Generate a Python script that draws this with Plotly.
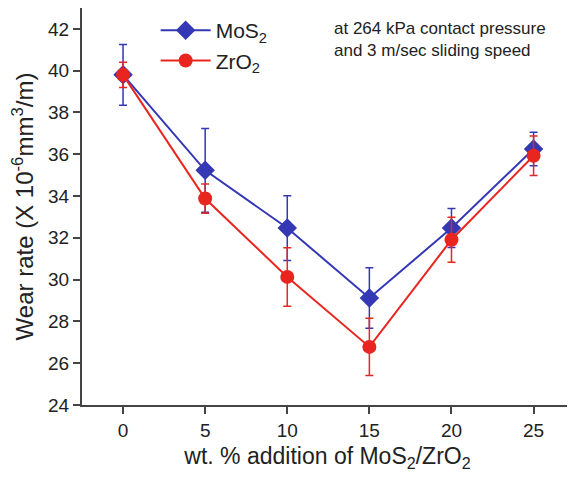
import plotly.graph_objects as go

wt_pct = [0, 5, 10, 15, 20, 25]
mos2_rate = [39.8, 35.23, 32.47, 29.12, 32.47, 36.25]
mos2_err = [1.45, 2.0, 1.55, 1.45, 0.93, 0.8]
zro2_rate = [39.8, 33.88, 30.13, 26.78, 31.91, 35.93]
zro2_err = [0.6, 0.7, 1.4, 1.37, 1.08, 0.95]
x_ticks = [0, 5, 10, 15, 20, 25]
y_ticks = [24, 26, 28, 30, 32, 34, 36, 38, 40, 42]

blue = "#3538b5"
red = "#e8261f"
FONT = "Liberation Sans, Arial, sans-serif"

fig = go.Figure()
fig.add_trace(go.Scatter(
    x=wt_pct, y=mos2_rate, mode="lines+markers", name="MoS<sub>2</sub>",
    line=dict(color=blue, width=2),
    marker=dict(symbol="diamond", size=15, color=blue),
    error_y=dict(type="data", array=mos2_err, color=blue, thickness=1.5, width=4),
))
fig.add_trace(go.Scatter(
    x=wt_pct, y=zro2_rate, mode="lines+markers", name="ZrO<sub>2</sub>",
    line=dict(color=red, width=2),
    marker=dict(symbol="circle", size=14, color=red),
    error_y=dict(type="data", array=zro2_err, color=red, thickness=1.5, width=4),
))

fig.add_annotation(
    x=0.509, y=0.978, xref="paper", yref="paper", xanchor="left", yanchor="top",
    text="at 264 kPa contact pressure<br>and 3 m/sec sliding speed",
    showarrow=False, align="left",
    font=dict(size=17, color="#222222", family=FONT),
)

axis_common = dict(
    showline=True, linecolor="#444444", linewidth=2, mirror=True,
    ticks="outside", ticklen=7, tickwidth=1.5, tickcolor="#444444",
    showgrid=False, zeroline=False, automargin=False,
    tickfont=dict(size=19, color="#222222"),
)

# the page body has an 8px margin, so the figure is sized to the visible area
fig.update_layout(
    width=567, height=471,
    margin=dict(l=74, r=2, t=0, b=74),
    paper_bgcolor="white", plot_bgcolor="white",
    font=dict(family=FONT, color="#222222"),
    showlegend=True,
    legend=dict(x=0.15, y=0.995, xanchor="left", yanchor="top",
                font=dict(size=21), bgcolor="rgba(0,0,0,0)",
                itemwidth=50, tracegroupgap=4),
    xaxis=dict(range=[-2.5, 27.4], tickvals=x_ticks,
               title=dict(text="wt. % addition of MoS<sub>2</sub>/ZrO<sub>2</sub>",
                          font=dict(size=23), standoff=8),
               **axis_common),
    yaxis=dict(range=[24, 43.0], tickvals=y_ticks,
               title=dict(text="Wear rate (X 10<sup>-6</sup>mm<sup>3</sup>/m)",
                          font=dict(size=24), standoff=14),
               **axis_common),
)

fig.write_html("out.html")
